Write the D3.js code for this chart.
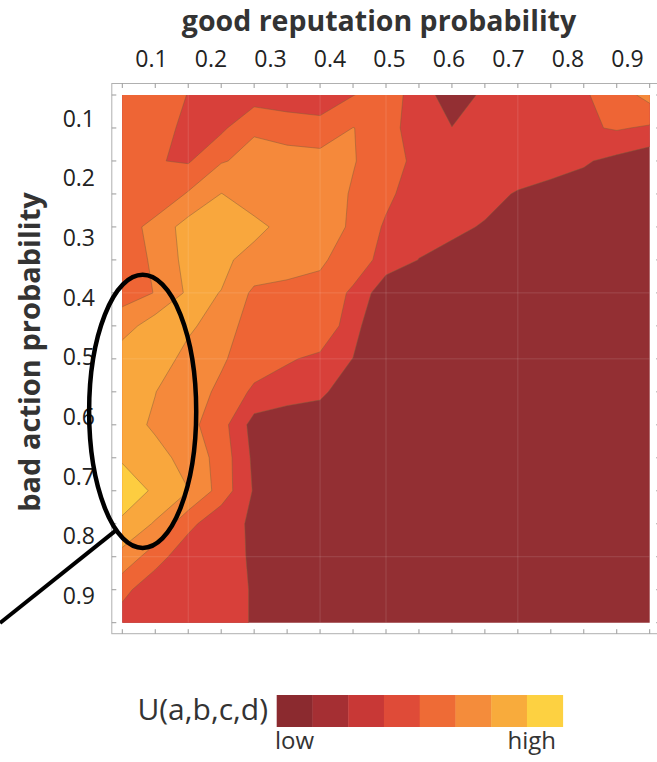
<!DOCTYPE html>
<html>
<head>
<meta charset="utf-8">
<script src="https://cdn.jsdelivr.net/npm/d3@7"></script>
<style>
  html, body { margin: 0; padding: 0; background: #fff; }
  svg { display: block; font-family: "Open Sans", "Noto Sans", sans-serif; }
</style>
</head>
<body>
<svg width="657" height="762"></svg>
<script>
// tick labels on the two axes
const xLabels = [0.1, 0.2, 0.3, 0.4, 0.5, 0.6, 0.7, 0.8, 0.9];
const yLabels = [0.1, 0.2, 0.3, 0.4, 0.5, 0.6, 0.7, 0.8, 0.9];

// U(a,b,c,d) sampled on a 17 x 17 grid (rows: bad action, top to bottom; cols: good reputation)
const utility = [
  [2.65, 2.7, 1.96, 1.6, 1.5, 1.6, 1.8, 1.97, 2.5, 1.54, 0.45, 1.2, 1.5, 1.7, 1.9, 2.43, 3.38],
  [2.6, 2.3, 1.82, 1.79, 2.89, 2.38, 2.12, 3.02, 2.62, 1.18, 1.02, 1.3, 1.5, 1.7, 1.85, 2.1, 1.86],
  [2.6, 2.05, 1.9, 2.92, 3.3, 3.57, 3.54, 3.05, 2.55, 1.66, 1.5, 1.4, 1.3, 1.2, 1.1, 0.75, 0.35],
  [2.7, 2.15, 3.1, 4.02, 3.6, 3.55, 3.45, 2.92, 2.25, 1.4, 1.25, 1.15, 0.96, 0.84, 0.6, 0.45, 0.3],
  [2.45, 3.38, 4.4, 4.5, 4.2, 3.76, 3.4, 2.88, 1.85, 1.4, 1.1, 0.96, 0.7, 0.5, 0.4, 0.3, 0.25],
  [2.5, 3.15, 4.36, 4.15, 3.75, 3.5, 3.1, 2.67, 1.55, 0.98, 0.85, 0.5, 0.4, 0.3, 0.25, 0.2, 0.2],
  [2.6, 3.03, 4.17, 3.985, 2.8, 2.67, 2.79, 1.8, 0.35, 0.3, 0.3, 0.25, 0.2, 0.2, 0.2, 0.2, 0.2],
  [3.55, 4.51, 4.1, 3.73, 2.3, 2.6, 2.75, 1.45, -0.3, 0.1, 0.2, 0.2, 0.2, 0.2, 0.2, 0.2, 0.2],
  [4.6, 4.3, 3.82, 3.1, 2.57, 2.1, 1.8, 0.98, 0.1, 0.1, 0.2, 0.2, 0.2, 0.2, 0.2, 0.2, 0.2],
  [4.55, 4.02, 3.35, 2.85, 1.79, 1.54, 1.2, 0.4, 0.1, 0.1, 0.2, 0.2, 0.2, 0.2, 0.2, 0.2, 0.2],
  [4.4, 3.86, 3.3, 2.4, 0.6, 0.25, 0.4, 0.1, 0.1, 0.1, 0.2, 0.2, 0.2, 0.2, 0.2, 0.2, 0.2],
  [4.85, 4.3, 3.7, 2.6, 0.78, 0.3, 0.2, 0.2, 0.2, 0.2, 0.2, 0.2, 0.2, 0.2, 0.2, 0.2, 0.2],
  [5.73, 4.8, 4.02, 2.59, 0.9, 0.3, 0.2, 0.2, 0.2, 0.2, 0.2, 0.2, 0.2, 0.2, 0.2, 0.2, 0.2],
  [4.76, 3.9, 2.3, 1.25, 0.9, 0.3, 0.2, 0.2, 0.2, 0.2, 0.2, 0.2, 0.2, 0.2, 0.2, 0.2, 0.2],
  [3.7, 2.45, 1.3, 1.3, 0.9, 0.3, 0.2, 0.2, 0.2, 0.2, 0.2, 0.2, 0.2, 0.2, 0.2, 0.2, 0.2],
  [2.3, 1.3, 1.4, 1.5, 0.9, 0.3, 0.2, 0.2, 0.2, 0.2, 0.2, 0.2, 0.2, 0.2, 0.2, 0.2, 0.2],
  [1.5, 1.5, 1.5, 1.5, 0.9, 0.3, 0.2, 0.2, 0.2, 0.2, 0.2, 0.2, 0.2, 0.2, 0.2, 0.2, 0.2]
];

// contour levels and the colour used at or above each one
const levels = [-1, 1, 2, 3, 4, 5];
const levelColors = ["#932f33", "#d8403a", "#ee6535", "#f5893b", "#f9a73d", "#fdcd40"];

// colour key (8 steps, low to high)
const legendColors = ["#8b2a2f", "#a52f33", "#c83836", "#df4b38", "#ee6b36", "#f48c3b", "#f8ab3c", "#fdd141"];

// faint mesh seams that show through the plot
const seamCols = [2, 6, 8, 12];
const seamRows = [6, 8, 14];

const svg = d3.select("svg");

const nx = utility[0].length;
const ny = utility.length;

// plot area
const plotLeft = 122.3, plotRight = 649.7, plotTop = 95, plotBottom = 622.7;
const pad = 11;

const gx = d3.scaleLinear().domain([0, nx - 1]).range([plotLeft, plotRight]);
const gy = d3.scaleLinear().domain([0, ny - 1]).range([plotTop, plotBottom]);

// label scales (labels sit a little off the sample grid in the figure)
const xLab = d3.scaleLinear().domain([0.1, 0.9]).range([151, 627]);
const yLab = d3.scaleLinear().domain([0.1, 0.9]).range([118, 595]);

svg.append("defs").append("clipPath").attr("id", "plotClip")
    .append("rect")
    .attr("x", plotLeft).attr("y", plotTop)
    .attr("width", plotRight - plotLeft).attr("height", plotBottom - plotTop);

// contours: d3 puts sample i at i + 0.5
const toScreen = d3.geoTransform({
    point: function (x, y) {
        this.stream.point(gx(x - 0.5), gy(y - 0.5));
    }
});
const path = d3.geoPath(toScreen);

const contours = d3.contours()
    .size([nx, ny])
    .thresholds(levels)(utility.flat());

const plot = svg.append("g").attr("clip-path", "url(#plotClip)");

plot.selectAll("path.band")
    .data(contours)
    .enter().append("path")
    .attr("class", "band")
    .attr("d", path)
    .attr("fill", (d, i) => levelColors[i])
    .attr("stroke", (d, i) => i === 0 ? "none" : "rgba(125,95,60,0.45)")
    .attr("stroke-width", 1)
    .attr("stroke-linejoin", "round");

plot.selectAll("line.seamX")
    .data(seamCols)
    .enter().append("line")
    .attr("x1", d => gx(d)).attr("x2", d => gx(d))
    .attr("y1", plotTop).attr("y2", plotBottom)
    .attr("stroke", "rgba(255,255,255,0.13)");

plot.selectAll("line.seamY")
    .data(seamRows)
    .enter().append("line")
    .attr("y1", d => gy(d)).attr("y2", d => gy(d))
    .attr("x1", plotLeft).attr("x2", plotRight)
    .attr("stroke", "rgba(255,255,255,0.13)");

// frame with inward ticks at every sample
const fL = plotLeft - pad + 0.5, fR = plotRight + pad, fT = plotTop - pad - 0.5, fB = plotBottom + pad;
svg.append("rect")
    .attr("x", fL).attr("y", fT)
    .attr("width", fR - fL).attr("height", fB - fT)
    .attr("fill", "none")
    .attr("stroke", "#b0b0b0")
    .attr("stroke-width", 1);

const idx = d3.range(nx);
const tickLen = 4.5;
const ticks = svg.append("g").attr("stroke", "#9a9a9a").attr("stroke-width", 1);
idx.forEach(i => {
    ticks.append("line").attr("x1", gx(i)).attr("x2", gx(i)).attr("y1", fT).attr("y2", fT + tickLen);
    ticks.append("line").attr("x1", gx(i)).attr("x2", gx(i)).attr("y1", fB).attr("y2", fB - tickLen);
    ticks.append("line").attr("y1", gy(i)).attr("y2", gy(i)).attr("x1", fL).attr("x2", fL + tickLen);
    ticks.append("line").attr("y1", gy(i)).attr("y2", gy(i)).attr("x1", fR).attr("x2", fR - tickLen);
});

// tick labels
const xAxis = svg.append("g")
    .attr("transform", "translate(0,67)")
    .call(d3.axisTop(xLab).tickValues(xLabels).tickSize(0).tickPadding(0).tickFormat(d3.format(".1f")));
xAxis.select(".domain").remove();
xAxis.selectAll("text")
    .attr("dy", 0)
    .style("font-size", "23px")
    .style("font-family", "'Open Sans', sans-serif")
    .attr("fill", "#222");

const yAxis = svg.append("g")
    .attr("transform", "translate(95,0)")
    .call(d3.axisLeft(yLab).tickValues(yLabels).tickSize(0).tickPadding(0).tickFormat(d3.format(".1f")));
yAxis.select(".domain").remove();
yAxis.selectAll("text")
    .attr("dy", "0.36em")
    .style("font-size", "23px")
    .style("font-family", "'Open Sans', sans-serif")
    .attr("fill", "#222");

// axis titles
svg.append("text")
    .attr("x", 379).attr("y", 31)
    .attr("text-anchor", "middle")
    .style("font-size", "28.5px")
    .style("font-weight", "bold")
    .attr("fill", "#333")
    .text("good reputation probability");

svg.append("text")
    .attr("transform", "translate(40,352) rotate(-90)")
    .attr("text-anchor", "middle")
    .style("font-size", "29px")
    .style("font-weight", "bold")
    .attr("fill", "#333")
    .text("bad action probability");

// highlight ellipse and pointer line
const spot = { x: 0.086, y: 0.592, rx: 0.09, ry: 0.229 };
const ecx = xLab(spot.x), ecy = yLab(spot.y);
const erx = xLab(spot.x + spot.rx) - ecx, ery = yLab(spot.y + spot.ry) - ecy;
svg.append("ellipse")
    .attr("cx", ecx).attr("cy", ecy)
    .attr("rx", erx).attr("ry", ery)
    .attr("fill", "none")
    .attr("stroke", "#000")
    .attr("stroke-width", 4.5);

// pointer meets the ellipse on its lower-left side
const s = 0.87;
const px = ecx - erx * Math.sqrt(1 - s * s), py = ecy + ery * s;
svg.append("line")
    .attr("x1", 0).attr("y1", 623)
    .attr("x2", px).attr("y2", py)
    .attr("stroke", "#000")
    .attr("stroke-width", 4);

// colour key
const key = svg.append("g");
const keyX = d3.scaleBand().domain(d3.range(legendColors.length)).range([276.7, 562.7]).paddingInner(0);
key.selectAll("rect")
    .data(legendColors)
    .enter().append("rect")
    .attr("x", (d, i) => keyX(i))
    .attr("y", 695)
    .attr("width", keyX.bandwidth() + 0.4)
    .attr("height", 32)
    .attr("fill", d => d);

key.append("text")
    .attr("x", 268).attr("y", 720)
    .attr("text-anchor", "end")
    .style("font-size", "30px")
    .attr("fill", "#333")
    .text("U(a,b,c,d)");

key.append("text")
    .attr("x", 275).attr("y", 749)
    .style("font-size", "24px")
    .attr("fill", "#333")
    .text("low");

key.append("text")
    .attr("x", 556).attr("y", 749)
    .attr("text-anchor", "end")
    .style("font-size", "24px")
    .attr("fill", "#333")
    .text("high");
</script>
</body>
</html>
